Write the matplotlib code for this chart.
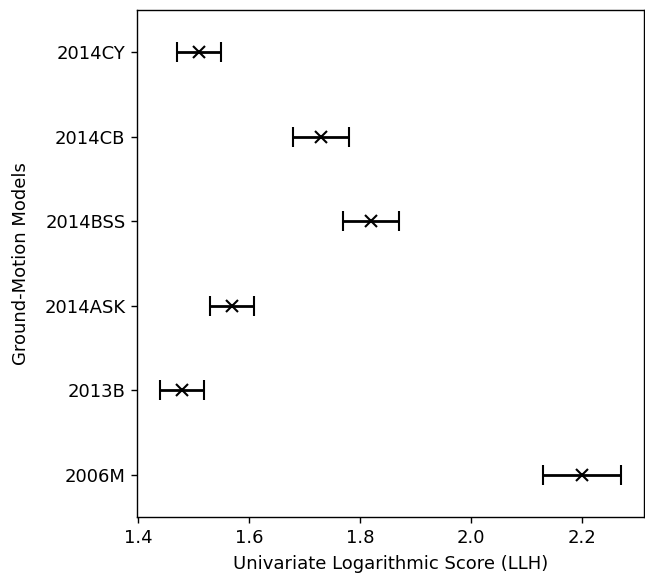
import matplotlib
matplotlib.use("Agg")
import matplotlib.pyplot as plt

models = ["2006M", "2013B", "2014ASK", "2014BSS", "2014CB", "2014CY"]
scores = [2.20, 1.48, 1.57, 1.82, 1.73, 1.51]
errors = [0.07, 0.04, 0.04, 0.05, 0.05, 0.04]

fig = plt.figure(figsize=(6.45, 5.78), dpi=100)
ax = fig.add_axes([137 / 645, 1 - 517 / 578, (644 - 137) / 645, (517 - 10) / 578])

ypos = list(range(len(models)))
ax.errorbar(scores, ypos, xerr=errors, fmt="x", color="black",
            markersize=8, elinewidth=2, capsize=7, capthick=2,
            markeredgewidth=1.5)

ax.set_yticks(ypos)
ax.set_yticklabels(models)
ax.set_ylim(-0.5, len(models) - 0.5)
ax.set_xticks([1.4, 1.6, 1.8, 2.0, 2.2])
ax.tick_params(labelsize=13, length=4.3, width=1, pad=4)
for s in ax.spines.values():
    s.set_linewidth(1)
ax.set_xlabel("Univariate Logarithmic Score (LLH)", fontsize=13, labelpad=6)
ax.set_ylabel("Ground-Motion Models", fontsize=13, labelpad=10)

fig.savefig("out.png", dpi=100)
